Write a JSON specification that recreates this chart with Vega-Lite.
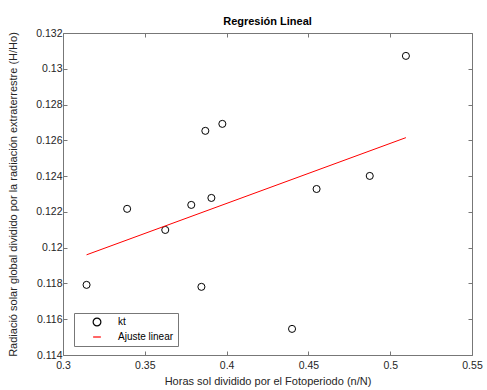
{
  "$schema": "https://vega.github.io/schema/vega-lite/v6.json",
  "autosize": "none",
  "width": 409,
  "height": 322,
  "padding": {"left": 63, "top": 33, "right": 15, "bottom": 35},
  "background": "white",
  "title": {"text": "Regresión Lineal", "font": "Liberation Sans", "fontSize": 11, "fontWeight": "bold", "color": "#000000", "offset": 1},
  "config": {
    "view": {"stroke": "#777777", "strokeWidth": 1},
    "axis": {
      "labelFont": "Liberation Sans", "labelFontSize": 10.5, "labelColor": "#262626",
      "titleFont": "Liberation Sans", "titleFontSize": 11, "titleFontWeight": "normal", "titleColor": "#262626",
      "grid": false, "domain": false, "tickColor": "#777777", "tickSize": -4, "labelPadding": 5,
      "labelOverlap": false, "labelFlush": false
    }
  },
  "datasets": {
    "pts": [
      {"x": 0.3144, "y": 0.11792, "serie": "kt"},
      {"x": 0.3392, "y": 0.12217, "serie": "kt"},
      {"x": 0.3625, "y": 0.12099, "serie": "kt"},
      {"x": 0.3784, "y": 0.12239, "serie": "kt"},
      {"x": 0.3870, "y": 0.12653, "serie": "kt"},
      {"x": 0.3846, "y": 0.11781, "serie": "kt"},
      {"x": 0.3907, "y": 0.12278, "serie": "kt"},
      {"x": 0.3974, "y": 0.12692, "serie": "kt"},
      {"x": 0.4400, "y": 0.11546, "serie": "kt"},
      {"x": 0.4550, "y": 0.12328, "serie": "kt"},
      {"x": 0.4875, "y": 0.12401, "serie": "kt"},
      {"x": 0.5096, "y": 0.13072, "serie": "kt"}
    ],
    "fit": [
      {"x": 0.3144, "y": 0.1196, "serie": "Ajuste linear"},
      {"x": 0.5096, "y": 0.12615, "serie": "Ajuste linear"}
    ]
  },
  "resolve": {"axis": {"x": "independent", "y": "independent"}},
  "layer": [
    {
      "data": {"name": "pts"},
      "mark": {"type": "point", "filled": false, "size": 50, "strokeWidth": 1, "opacity": 1},
      "encoding": {
        "x": {"field": "x", "type": "quantitative", "scale": {"domain": [0.3, 0.55], "nice": false, "zero": false},
          "axis": {"values": [0.3, 0.35, 0.4, 0.45, 0.5, 0.55], "format": ".2~f", "title": "Horas sol dividido por el Fotoperiodo (n/N)", "labelPadding": 9, "titlePadding": 5}},
        "y": {"field": "y", "type": "quantitative", "scale": {"domain": [0.114, 0.132], "nice": false, "zero": false},
          "axis": {"values": [0.114, 0.116, 0.118, 0.12, 0.122, 0.124, 0.126, 0.128, 0.13, 0.132], "format": ".3~f", "title": "Radiació solar global dividido por la radiación extraterrestre (H/Ho)", "titlePadding": 17}},
        "color": {"field": "serie", "type": "nominal", "scale": {"domain": ["kt", "Ajuste linear"], "range": ["#000000", "#ff0000"]},
          "legend": {"title": null, "orient": "none", "legendX": 11, "legendY": 280, "strokeColor": "#777777", "fillColor": "white", "padding": 4, "labelFont": "Liberation Sans", "labelFontSize": 10, "labelColor": "#000000", "symbolSize": 60, "symbolStrokeWidth": 1.2, "rowPadding": 3, "symbolOffset": 14, "labelOffset": 16, "offset": 0,
            "encode": {"symbols": {"update": {"fill": {"value": "white"}, "fillOpacity": {"value": 0}}}}}},
        "shape": {"field": "serie", "type": "nominal", "scale": {"domain": ["kt", "Ajuste linear"], "range": ["circle", "stroke"]}}
      }
    },
    {
      "data": {"name": "fit"},
      "mark": {"type": "line", "strokeWidth": 1},
      "encoding": {
        "x": {"field": "x", "type": "quantitative", "axis": {"orient": "top", "values": [0.3, 0.35, 0.4, 0.45, 0.5, 0.55], "labels": false, "title": null}},
        "y": {"field": "y", "type": "quantitative", "axis": {"orient": "right", "values": [0.114, 0.116, 0.118, 0.12, 0.122, 0.124, 0.126, 0.128, 0.13, 0.132], "labels": false, "title": null}},
        "color": {"field": "serie", "type": "nominal"}
      }
    }
  ]
}
